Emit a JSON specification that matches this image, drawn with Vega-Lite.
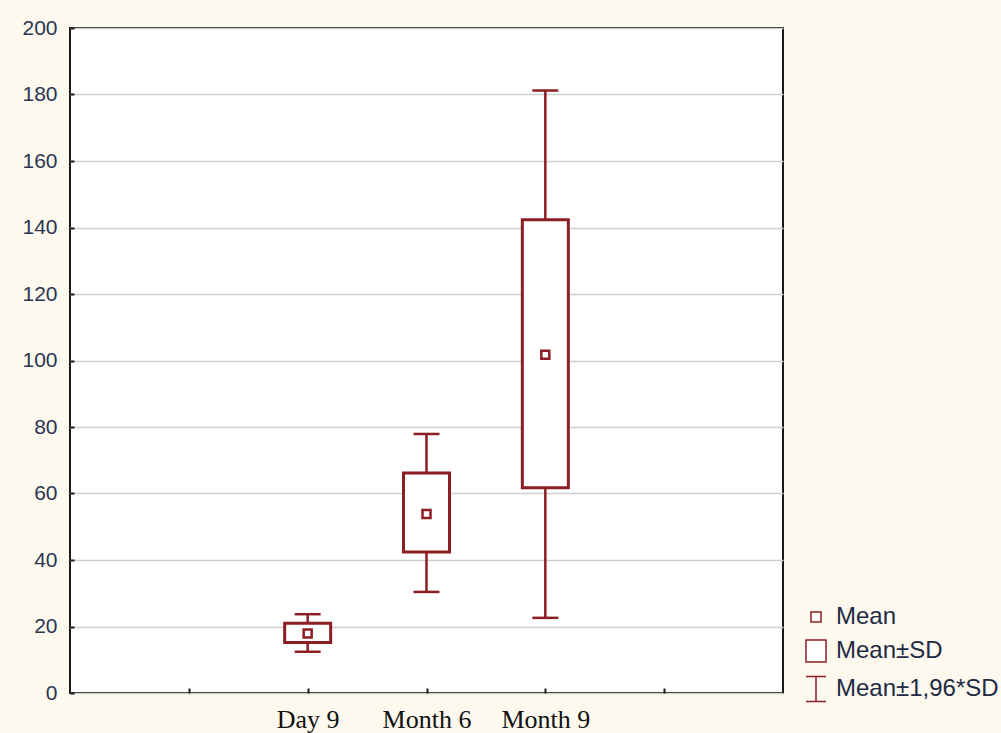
{
  "$schema": "https://vega.github.io/schema/vega-lite/v6.json",
  "width": 713,
  "height": 665,
  "autosize": {"type": "none"},
  "padding": {"left": 70, "top": 28, "right": 218, "bottom": 40},
  "background": "#fdf9ef",
  "config": {
    "view": {"fill": "white", "stroke": "#1a1a1a", "strokeWidth": 2}
  },
  "data": {
    "values": [
      {"group": "Day 9", "mean": 17.9, "sdlo": 15.2, "sdhi": 21.0, "lo": 12.4, "hi": 23.7, "marker": "Mean"},
      {"group": "Month 6", "mean": 53.8, "sdlo": 42.4, "sdhi": 66.2, "lo": 30.4, "hi": 77.9, "marker": "Mean"},
      {"group": "Month 9", "mean": 101.7, "sdlo": 61.7, "sdhi": 142.3, "lo": 22.6, "hi": 181.2, "marker": "Mean"}
    ]
  },
  "encoding": {
    "x": {
      "field": "group",
      "type": "nominal",
      "title": null,
      "scale": {"type": "point", "domain": ["_a", "Day 9", "Month 6", "Month 9", "_b"], "padding": 1},
      "axis": {
        "labelAngle": 0,
        "domain": false,
        "grid": false,
        "ticks": true,
        "tickSize": -5,
        "tickWidth": 2,
        "tickColor": "#1a1a1a",
        "labelFont": "Liberation Serif",
        "labelFontSize": 26,
        "labelFontWeight": "normal",
        "labelColor": "#111111",
        "labelPadding": 18,
        "labelExpr": "slice(datum.label, 0, 1) == '_' ? '' : datum.label"
      }
    }
  },
  "layer": [
    {
      "mark": {"type": "rule", "color": "#8c1d23", "strokeWidth": 2.5},
      "encoding": {
        "y": {
          "field": "lo",
          "type": "quantitative",
          "title": null,
          "scale": {"domain": [0, 200], "nice": false, "zero": false},
          "axis": {
            "values": [0, 20, 40, 60, 80, 100, 120, 140, 160, 180, 200],
            "domain": false,
            "grid": true,
            "gridColor": "#cfcfcf",
            "gridWidth": 1.5,
            "ticks": true,
            "tickSize": -4,
            "tickWidth": 2,
            "tickColor": "#1a1a1a",
            "labelFont": "Liberation Sans",
            "labelFontSize": 21,
            "labelColor": "#2a3550",
            "labelPadding": 17
          }
        },
        "y2": {"field": "hi"}
      }
    },
    {
      "mark": {"type": "tick", "color": "#8c1d23", "size": 26, "thickness": 2.5, "orient": "horizontal", "opacity": 1},
      "encoding": {"y": {"field": "lo", "type": "quantitative", "title": null}}
    },
    {
      "mark": {"type": "tick", "color": "#8c1d23", "size": 26, "thickness": 2.5, "orient": "horizontal", "opacity": 1},
      "encoding": {"y": {"field": "hi", "type": "quantitative", "title": null}}
    },
    {
      "mark": {"type": "bar", "fill": "white", "stroke": "#8c1d23", "strokeWidth": 3, "size": 46},
      "encoding": {"y": {"field": "sdlo", "type": "quantitative", "title": null}, "y2": {"field": "sdhi"}}
    },
    {
      "mark": {"type": "point", "filled": false, "fill": "white", "stroke": "#8c1d23", "strokeWidth": 2.5, "size": 256, "opacity": 1},
      "encoding": {
        "y": {"field": "mean", "type": "quantitative", "title": null},
        "shape": {
          "field": "marker",
          "type": "nominal",
          "scale": {
            "domain": ["Mean", "Mean±SD", "Mean±1,96*SD"],
            "range": [
              "M-0.5,-0.5H0.5V0.5H-0.5Z",
              "M-1,-1.1H1V1.1H-1Z",
              "M-1,-1.24H1M0,-1.24V1.24M-1,1.24H1"
            ]
          },
          "legend": {
            "title": null,
            "orient": "none",
            "legendX": 730,
            "legendY": 573,
            "fillColor": "#fdf9ef",
            "padding": 4,
            "symbolSize": 400,
            "symbolOpacity": 1,
            "labelFont": "Liberation Sans",
            "labelFontSize": 24,
            "labelColor": "#1f2a44",
            "labelOffset": 8,
            "rowPadding": 8,
            "labelLimit": 300,
            "encode": {
              "symbols": {
                "update": {
                  "stroke": {"value": "#8c1d23"},
                  "strokeWidth": {"value": 2.5},
                  "fill": {"value": "transparent"},
                  "opacity": {"value": 1}
                }
              }
            }
          }
        }
      }
    }
  ]
}
